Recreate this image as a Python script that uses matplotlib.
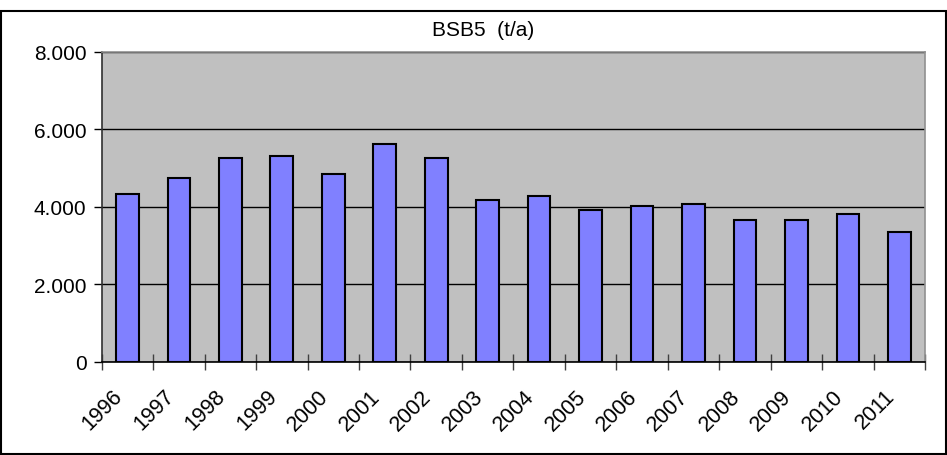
#!/usr/bin/env python3

import numpy as np
import matplotlib
matplotlib.use('Agg')
import matplotlib.pyplot as plt
from matplotlib.patches import Rectangle
from matplotlib.ticker import FuncFormatter


years = ['1996', '1997', '1998', '1999', '2000', '2001', '2002', '2003',
         '2004', '2005', '2006', '2007', '2008', '2009', '2010', '2011']
bsb5 = [4330, 4740, 5250, 5300, 4840, 5620, 5250, 4170,
        4270, 3920, 4010, 4060, 3650, 3650, 3800, 3350]
y_ticks = [0, 2000, 4000, 6000, 8000]


def dotted_thousands(v, pos):
  return '{:,.0f}'.format(v).replace(',', '.')


def main():
  plt.rcParams['font.family'] = ['Liberation Sans', 'DejaVu Sans']

  fig = plt.figure(figsize=(9.47, 4.56), dpi=100)
  ax = fig.add_axes([0.1074, 0.2046, 0.8694, 0.6798])

  x = np.arange(len(years))
  ax.bar(x, bsb5, width=0.44, color='#8080FF', edgecolor='black', linewidth=1.5, zorder=3)

  ax.set_facecolor('#C0C0C0')
  ax.set_xlim(-0.5, len(years) - 0.5)
  ax.set_ylim(0, 8000)
  ax.set_yticks(y_ticks)
  ax.yaxis.set_major_formatter(FuncFormatter(dotted_thousands))
  ax.grid(axis='y', color='black', linewidth=1.0, zorder=1)
  ax.set_axisbelow(True)

  # labels sit left of the bars, ticks mark the category edges
  ax.set_xticks(x - 0.3, labels=years, rotation=45, ha='right', rotation_mode='anchor')
  ax.set_xticks(np.arange(len(years) + 1) - 0.5, minor=True)
  ax.tick_params(axis='x', which='major', length=0, pad=17, labelsize=15.5)
  ax.tick_params(axis='x', which='minor', direction='inout', length=11, width=1.0, color='#404040')
  ax.tick_params(axis='y', direction='out', length=6, width=1.0, pad=5, labelsize=15)

  ax.spines['top'].set_color('#909090')
  ax.spines['right'].set_color('#909090')
  ax.spines['left'].set_color('#303030')
  ax.spines['bottom'].set_color('black')
  for s in ax.spines.values():
    s.set_linewidth(1.2)

  fig.text(0.5106, 0.933, 'BSB5  (t/a)', ha='center', va='center', fontsize=15)

  fig.patches.append(Rectangle((0.001, 0.002), 0.998, 0.972, transform=fig.transFigure,
                               fill=False, edgecolor='black', linewidth=1.5))

  fig.savefig('out.png', dpi=100)


if __name__ == '__main__':
  main()
